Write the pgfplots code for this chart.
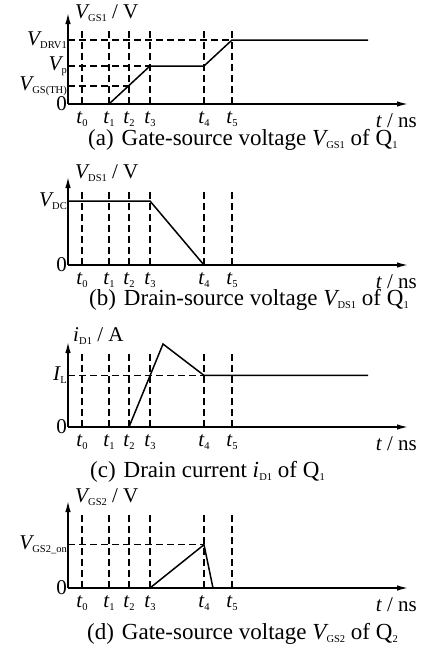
\documentclass[border=0pt]{standalone}
\usepackage{fontspec}
\setmainfont{Liberation Serif}
\usepackage{pgfplots}
\pgfplotsset{compat=1.18}
\usetikzlibrary{arrows.meta}

% small upright subscript used in all labels
\newcommand{\sbs}[1]{\kern0.2bp\raisebox{-3bp}{\fontsize{10.5bp}{10.5bp}\selectfont #1}}
\newcommand{\iv}[1]{{\itshape #1}}
\newcommand{\lblfont}{\fontsize{21bp}{25bp}\selectfont}
\newcommand{\capfont}{\fontsize{23bp}{27bp}\selectfont}

\pgfplotsset{
  panel/.style={
    scale only axis, anchor=south west,
    width=340bp, height=#1bp,
    xmin=0, xmax=340, ymin=0, ymax=#1,
    axis x line=bottom, axis y line=left,
    axis line style={line width=1.4bp, -{Latex[length=11bp,width=5.5bp]}},
    xtick={14,41,61,82,136,164},
    xticklabels={\iv{t}\sbs{0},\iv{t}\sbs{1},\iv{t}\sbs{2},\iv{t}\sbs{3},\iv{t}\sbs{4},\iv{t}\sbs{5}},
    x tick style={draw=none},
    y tick style={line width=1bp, black},
    tick align=inside, major tick length=3bp,
    tick label style={font=\lblfont, inner sep=0pt},
    xticklabel style={anchor=north, yshift=-7bp},
    yticklabel style={anchor=east, xshift=-1bp},
    xlabel={\iv{t} / ns},
    every axis x label/.style={at={(rel axis cs:1,0)}, anchor=base east,
      inner sep=0pt, xshift=9bp, yshift=-23bp, font=\lblfont},
    clip=false,
    unbounded coords=jump,
  },
  ylab/.style 2 args={
    every axis y label/.style={at={(rel axis cs:0,1)}, anchor=base west,
      inner sep=0pt, xshift=#1, yshift=#2, font=\lblfont},
  },
  guide/.style={black, line width=1.2bp, dash pattern=on 7bp off 4bp},
  wave/.style={black, line width=1.5bp, no marks},
}

\begin{document}
\begin{tikzpicture}
\useasboundingbox (0,0) rectangle (421bp,-646bp);

% (a) gate-source voltage of Q1
\begin{axis}[panel=91, at={(68bp,-104bp)}, ylab={7bp}{-5bp},
  ylabel={\iv{V}\sbs{GS1} / V},
  ytick={0,18,38,64},
  yticklabels={0,\iv{V}\sbs{GS(TH)},\iv{V}\sbs{p},\iv{V}\sbs{DRV1}}]
\addplot[guide] coordinates {(14,0)(14,76)(14,nan)(41,0)(41,76)(41,nan)(61,0)(61,76)(61,nan)
  (82,0)(82,76)(82,nan)(136,0)(136,76)(136,nan)(164,0)(164,76)};
\addplot[guide] coordinates {(0,64)(164,64)(164,nan)(0,38)(82,38)(82,nan)(0,18)(61,18)};
\addplot[wave] coordinates {(41,0)(82,38)(136,38)(164,64)(300,64)};
\end{axis}

% (b) drain-source voltage of Q1
\begin{axis}[panel=88, at={(68bp,-265bp)}, ylab={7bp}{-1bp},
  ylabel={\iv{V}\sbs{DS1} / V},
  ytick={0,64},
  yticklabels={0,\iv{V}\sbs{DC}}]
\addplot[guide] coordinates {(14,0)(14,76)(14,nan)(41,0)(41,76)(41,nan)(61,0)(61,76)(61,nan)
  (82,0)(82,76)(82,nan)(136,0)(136,76)(136,nan)(164,0)(164,76)};
\addplot[wave] coordinates {(0,64)(82,64)(136,0)(164,0)};
\end{axis}

% (c) drain current of Q1
\begin{axis}[panel=85, at={(68bp,-427bp)}, ylab={5bp}{1bp},
  ylabel={\iv{i}\sbs{D1} / A},
  ytick={0,51.6},
  yticklabels={0,\iv{I}\sbs{L}}]
\addplot[guide] coordinates {(14,0)(14,76)(14,nan)(41,0)(41,76)(41,nan)(61,0)(61,76)(61,nan)
  (82,0)(82,76)(82,nan)(136,0)(136,76)(136,nan)(164,0)(164,76)};
\addplot[guide] coordinates {(0,51.6)(136,51.6)};
\addplot[wave] coordinates {(61,0)(95,83)(136,51.6)(300,51.6)};
\end{axis}

% (d) gate-source voltage of Q2
\begin{axis}[panel=87, at={(68bp,-588bp)}, ylab={7bp}{-1bp},
  ylabel={\iv{V}\sbs{GS2} / V},
  ytick={0,43.3},
  yticklabels={0,\iv{V}\sbs{GS2\_on}}]
\addplot[guide] coordinates {(14,0)(14,75)(14,nan)(41,0)(41,75)(41,nan)(61,0)(61,75)(61,nan)
  (82,0)(82,75)(82,nan)(136,0)(136,75)(136,nan)(164,0)(164,75)};
\addplot[guide] coordinates {(0,43.3)(136,43.3)};
\addplot[wave] coordinates {(82,0)(136,43.3)(145,0)};
\end{axis}

% sub-figure captions
\begin{scope}[every node/.style={anchor=base west, inner sep=0pt, font=\capfont}]
\node at (88bp,-145bp) {(a)\hspace{8bp}Gate-source voltage \iv{V}\sbs{GS1} of Q\sbs{1}};
\node at (89bp,-305bp) {(b)\hspace{8bp}Drain-source voltage \iv{V}\sbs{DS1} of Q\sbs{1}};
\node at (90bp,-477bp) {(c)\hspace{8bp}Drain current \iv{i}\sbs{D1} of Q\sbs{1}};
\node at (87bp,-639bp) {(d)\hspace{8bp}Gate-source voltage \iv{V}\sbs{GS2} of Q\sbs{2}};
\end{scope}
\end{tikzpicture}
\end{document}
